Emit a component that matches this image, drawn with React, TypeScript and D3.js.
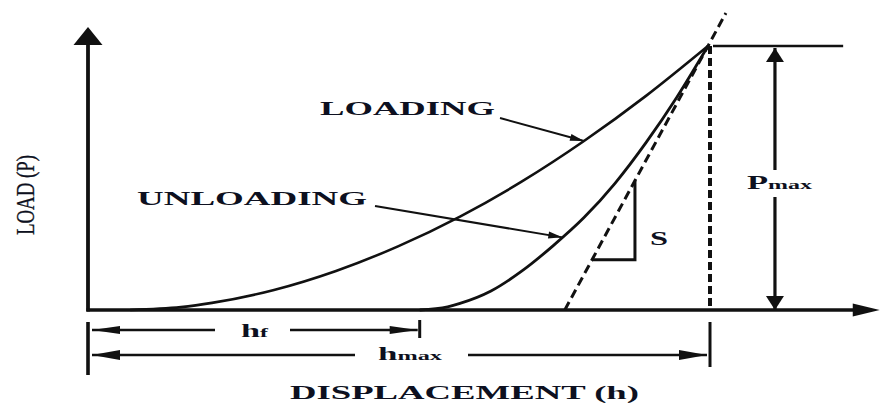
import React from "react";
import * as d3 from "d3";

// Indentation displacement h (fraction of h_max) and load P (fraction of P_max)
const loadingH = [0.068, 0.15, 0.2, 0.3, 0.4, 0.5, 0.6, 0.7, 0.8, 0.9, 1.0];
const loadingP = [0, 0.011, 0.027, 0.076, 0.148, 0.241, 0.354, 0.487, 0.64, 0.811, 1.0];
const unloadingH = [0.535, 0.58, 0.6, 0.65, 0.7, 0.75, 0.8, 0.85, 0.9, 0.95, 1.0];
const unloadingP = [0, 0.012, 0.025, 0.072, 0.148, 0.243, 0.35, 0.48, 0.634, 0.807, 1.0];

// Characteristic values
const hF = 0.535; // residual depth after unloading
const hMax = 1; // depth at peak load
const pMax = 1; // peak load
const hTangent = 0.769; // intercept of the initial unloading tangent (stiffness S)
const slopeBox = [0.19, 0.49]; // load range of the S slope triangle
const hAxisMax = 1.277;
const pAxisMax = 1.072;

const labels = {
  loading: "LOADING",
  unloading: "UNLOADING",
  xTitle: "DISPLACEMENT (h)",
  yTitle: "LOAD (P)",
  stiffness: "S",
};

const W = 882;
const H = 404;
const INK = "#111";
const FONT = "'Liberation Serif', 'DejaVu Serif', serif";

const x = d3.scaleLinear().domain([0, 1]).range([88, 708]);
const y = d3.scaleLinear().domain([0, 1]).range([310, 46]);

const line = d3
  .line<[number, number]>()
  .x((d) => x(d[0]))
  .y((d) => y(d[1]))
  .curve(d3.curveMonotoneX);

const loadingPts = loadingH.map((h, i) => [h, loadingP[i]] as [number, number]);
const unloadingPts = unloadingH.map((h, i) => [h, unloadingP[i]] as [number, number]);

const tangentH = (p: number) => hTangent + p * (hMax - hTangent) / pMax;
const unloadAt = d3.scaleLinear().domain(unloadingH).range(unloadingP);

function head(tx: number, ty: number, fx: number, fy: number, len: number, hw: number) {
  const dx = tx - fx;
  const dy = ty - fy;
  const d = Math.hypot(dx, dy) || 1;
  const ux = dx / d;
  const uy = dy / d;
  const bx = tx - ux * len;
  const by = ty - uy * len;
  const pts = [
    [tx, ty],
    [bx - uy * hw, by + ux * hw],
    [bx + uy * hw, by - ux * hw],
  ];
  return <polygon points={pts.map((p) => p.join(",")).join(" ")} fill={INK} />;
}

function Arrow({ x1, y1, x2, y2, len, hw, sw }: any) {
  return (
    <g>
      <line x1={x1} y1={y1} x2={x2} y2={y2} stroke={INK} strokeWidth={sw} />
      {head(x2, y2, x1, y1, len, hw)}
    </g>
  );
}

export default function App() {
  const x0 = x(0);
  const y0 = y(0);
  const yTop = y(pAxisMax);
  const xEnd = x(hAxisMax);
  const xPeak = x(hMax);
  const yPeak = y(pMax);
  const xDash = xPeak + 2;

  const tanTopP = 1.125;
  const triX0 = x(tangentH(slopeBox[0]));
  const triX1 = x(tangentH(slopeBox[1]));

  const xPdim = x(1.108);
  const rowF = 330;
  const rowMax = 355;

  // Arrow targets on the curves
  const loadTip: [number, number] = [x(loadingH[8]), y(loadingP[8])];
  const unloadH = 0.765;
  const unloadTip: [number, number] = [x(unloadH), y(unloadAt(unloadH))];

  const boldText = { fontFamily: FONT, fontWeight: 700, fill: "#0d1020" } as const;

  return (
    <svg
      width={W}
      height={H}
      viewBox={`0 0 ${W} ${H}`}
      style={{ position: "fixed", left: 0, top: 0, background: "#fff" }}
    >
      <rect width={W} height={H} fill="#fff" />

      {/* axes */}
      <line x1={x0} y1={y0 + 1.5} x2={x0} y2={yTop + 12} stroke={INK} strokeWidth={3.8} />
      {head(x0, yTop, x0, y0, 18, 14.5)}
      <line x1={x0 - 1.5} y1={y0} x2={xEnd - 20} y2={y0} stroke={INK} strokeWidth={3.4} />
      {head(xEnd, y0, x0, y0, 27, 6.5)}

      {/* load-displacement curves */}
      <path d={line(loadingPts) || ""} fill="none" stroke={INK} strokeWidth={2.6} />
      <path d={line(unloadingPts) || ""} fill="none" stroke={INK} strokeWidth={2.8} />

      {/* unloading tangent and peak depth */}
      <line
        x1={x(hTangent)}
        y1={y0}
        x2={x(tangentH(tanTopP))}
        y2={y(tanTopP)}
        stroke={INK}
        strokeWidth={3}
        strokeDasharray="9 5"
      />
      <line
        x1={xDash}
        y1={yPeak}
        x2={xDash}
        y2={y0}
        stroke={INK}
        strokeWidth={4}
        strokeDasharray="8 4"
      />

      {/* stiffness triangle */}
      <polyline
        points={`${triX0},${y(slopeBox[0])} ${triX1},${y(slopeBox[0])} ${triX1},${y(slopeBox[1])}`}
        fill="none"
        stroke={INK}
        strokeWidth={3}
      />
      <text x={650} y={245} fontSize={18} textLength={18} lengthAdjust="spacingAndGlyphs" style={boldText}>
        {labels.stiffness}
      </text>

      {/* P_max dimension */}
      <line x1={xPeak + 5} y1={yPeak} x2={x(1.218)} y2={yPeak} stroke={INK} strokeWidth={2.6} />
      <Arrow x1={xPdim} y1={170} x2={xPdim} y2={yPeak + 2} len={14} hw={9} sw={3.2} />
      <Arrow x1={xPdim} y1={197} x2={xPdim} y2={y0} len={14} hw={9} sw={3.2} />
      <text x={747} y={189} textLength={65} lengthAdjust="spacingAndGlyphs" style={boldText}>
        <tspan fontSize={18}>P</tspan>
        <tspan fontSize={12.5}>max</tspan>
      </text>

      {/* depth dimensions */}
      <line x1={x0} y1={322} x2={x0} y2={375} stroke={INK} strokeWidth={3.6} />
      <line x1={x(hF)} y1={320} x2={x(hF)} y2={338} stroke={INK} strokeWidth={3} />
      <line x1={xDash} y1={322} x2={xDash} y2={367} stroke={INK} strokeWidth={3} />

      <Arrow x1={215} y1={rowF} x2={x0 + 4} y2={rowF} len={28} hw={4} sw={2.6} />
      <Arrow x1={290} y1={rowF} x2={x(hF) - 2} y2={rowF} len={28} hw={4} sw={2.6} />
      <text x={241} y={337} textLength={27} lengthAdjust="spacingAndGlyphs" style={boldText}>
        <tspan fontSize={18}>h</tspan>
        <tspan fontSize={12.5}>f</tspan>
      </text>

      <Arrow x1={355} y1={rowMax} x2={x0 + 4} y2={rowMax} len={28} hw={5} sw={2.6} />
      <Arrow x1={468} y1={rowMax} x2={xDash - 3} y2={rowMax} len={28} hw={5} sw={2.6} />
      <text x={378} y={360} textLength={64} lengthAdjust="spacingAndGlyphs" style={boldText}>
        <tspan fontSize={18}>h</tspan>
        <tspan fontSize={12.5}>max</tspan>
      </text>

      {/* curve labels */}
      <text x={320} y={115} fontSize={18} textLength={175} lengthAdjust="spacingAndGlyphs" style={boldText}>
        {labels.loading}
      </text>
      <Arrow x1={500} y1={118} x2={loadTip[0]} y2={loadTip[1]} len={14} hw={3.5} sw={2} />

      <text x={137} y={205} fontSize={18} textLength={230} lengthAdjust="spacingAndGlyphs" style={boldText}>
        {labels.unloading}
      </text>
      <Arrow x1={375} y1={206} x2={unloadTip[0]} y2={unloadTip[1]} len={14} hw={3.5} sw={2} />

      {/* axis titles */}
      <text x={290} y={399} fontSize={18} textLength={349} lengthAdjust="spacingAndGlyphs" style={boldText}>
        {labels.xTitle}
      </text>
      <text
        transform="translate(34,235) rotate(-90)"
        fontSize={26}
        textLength={80}
        lengthAdjust="spacingAndGlyphs"
        stroke="#0d1020"
        strokeWidth={0.3}
        style={{ fontFamily: FONT, fill: "#0d1020" }}
      >
        {labels.yTitle}
      </text>
    </svg>
  );
}
